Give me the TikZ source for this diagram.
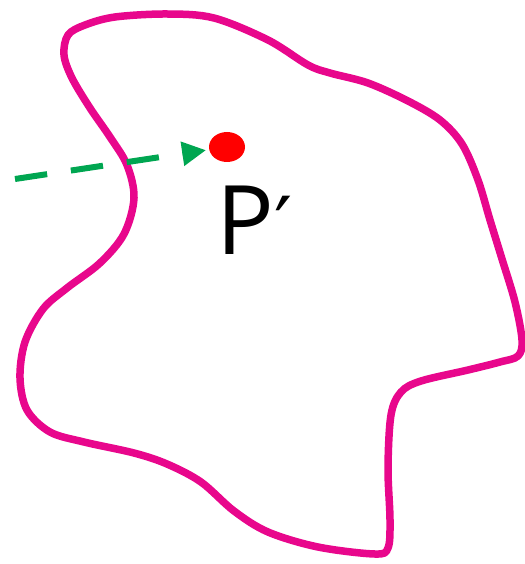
\documentclass[tikz,border=0pt]{standalone}
\usepackage{fontspec}
\setmainfont{Open Sans}
\newfontfamily\primefont{DejaVu Sans}
\usetikzlibrary{arrows.meta}
\definecolor{blobmag}{HTML}{E8078C}
\definecolor{arrgreen}{HTML}{00A651}
\definecolor{dotred}{HTML}{FF0000}
\tikzset{
  blob/.style={draw=blobmag, line width=7.5pt, line join=round},
  dotnode/.style={ellipse, fill=dotred, minimum width=36pt, minimum height=30pt, inner sep=0pt},
  greenarrow/.style={draw=arrgreen, line width=6pt, dash pattern=on 32.5pt off 24pt, -{Triangle[length=24pt,width=23pt]}},
  label/.style={inner sep=0pt, font=\fontsize{96}{96}\selectfont}
}
\usetikzlibrary{shapes.geometric}
\begin{document}
\begin{tikzpicture}[x=1pt,y=-1pt]
\useasboundingbox (0,0) rectangle (524,564);
\draw[blob] plot[smooth cycle, tension=0.55] coordinates {
(64,55) (68,35) (85,25) (115,17) (167,14) (214,18) (268,40) (308,65) (330,73)
(368,83) (408,101) (440,120) (462,144) (478,180) (490,220) (502,259) (515,302)
(522,340) (518,356) (500,362) (468,370) (421,381) (401,392) (391,415) (388,468)
(390,520) (388,548) (375,554) (318,547) (268,532) (234,511) (201,482) (167,464)
(134,453) (84,442) (50,432) (27,410) (20,378) (25,342) (43,309) (67,288) (100,263)
(124,234) (134,198) (127,165) (110,137) (90,108) (72,78)};
\node[dotnode] (p) at (227,147) {};
\coordinate (s) at (15,179);
\draw[greenarrow] (s) -- (p) [shorten >=3pt];
\node[label, anchor=base west] (lbl) at (216,254) {P{\primefont\fontsize{80}{80}\selectfont ′}};
\end{tikzpicture}
\end{document}
